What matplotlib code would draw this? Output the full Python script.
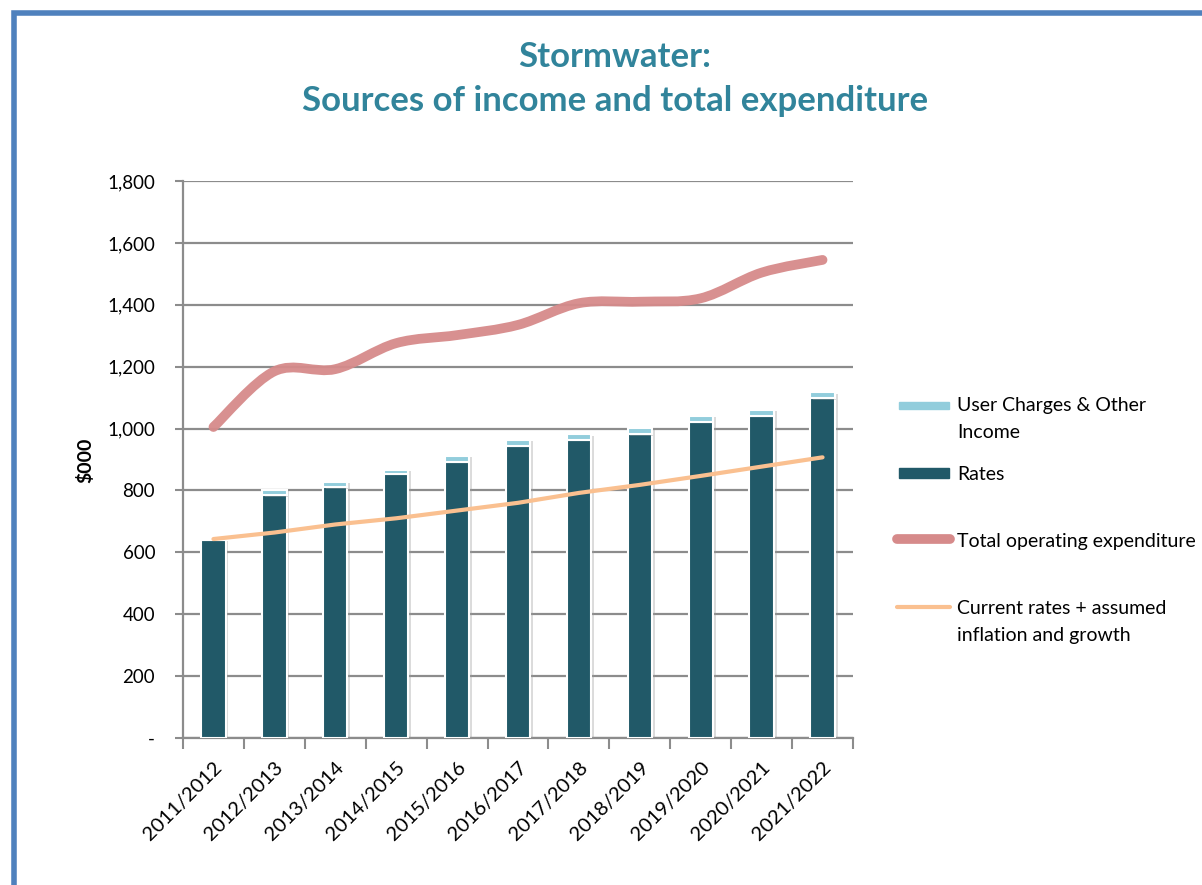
import numpy as np
import matplotlib.pyplot as plt
from matplotlib.path import Path
from matplotlib.patches import PathPatch, Rectangle
from matplotlib.lines import Line2D
import matplotlib.patheffects as pe

plt.rcParams['font.family'] = ['Lato', 'DejaVu Sans']

years = ['2011/2012', '2012/2013', '2013/2014', '2014/2015', '2015/2016', '2016/2017',
         '2017/2018', '2018/2019', '2019/2020', '2020/2021', '2021/2022']
rates = [640, 784, 810, 853, 893, 944, 963, 982, 1022, 1041, 1098]
user_charges = [0, 19, 18, 13, 18, 19, 19, 19, 19, 19, 19]
total_opex = [1005, 1185, 1192, 1276, 1302, 1335, 1405, 1410, 1421, 1504, 1545]
current_rates = [643, 664, 690, 710, 735, 760, 792, 818, 847, 877, 907]

c_rates = '#215968'
c_user = '#92CDDC'
c_opex = '#D68A8A'
c_curr = '#FAC090'
c_title = '#31849B'
c_grid = '#8C8C8C'


def smooth_path(xs, ys):
    # Bezier segments through every point (same smoothing as spreadsheet charts)
    pts = np.column_stack([xs, ys]).astype(float)
    verts = [pts[0]]
    codes = [Path.MOVETO]
    n = len(pts)
    for i in range(n - 1):
        p0 = pts[i - 1] if i > 0 else pts[i]
        p1, p2 = pts[i], pts[i + 1]
        p3 = pts[i + 2] if i + 2 < n else pts[i + 1]
        verts += [p1 + (p2 - p0) / 6, p2 - (p3 - p1) / 6, p2]
        codes += [Path.CURVE4] * 3
    return Path(verts, codes)


W, H = 1202, 885
fig = plt.figure(figsize=(W / 100, H / 100), dpi=100)
ax = fig.add_axes([183 / W, 1 - 738 / H, (853 - 183) / W, (738 - 181) / H])

x = np.arange(len(years))
shadow = [pe.SimplePatchShadow(offset=(2, -1), shadow_rgbFace='#999999', alpha=0.35), pe.Normal()]
b1 = ax.bar(x, rates, width=0.4, color=c_rates, edgecolor='white', linewidth=1.5, zorder=3)
b2 = ax.bar(x, user_charges, width=0.4, bottom=rates, color=c_user, edgecolor='white',
            linewidth=1.5, zorder=3)
for b in list(b1) + list(b2):
    b.set_path_effects(shadow)

ax.add_patch(PathPatch(smooth_path(x, total_opex), facecolor='none', edgecolor=c_opex,
                       lw=7, capstyle='round', joinstyle='round', alpha=0.95, zorder=4))
ax.plot(x, current_rates, color=c_curr, lw=3, solid_capstyle='round', zorder=5)

ax.set_xlim(-0.5, len(years) - 0.5)
ax.set_ylim(0, 1800)
ax.set_yticks(range(0, 1801, 200))
ax.set_yticklabels(['-'] + [f'{v:,}' for v in range(200, 1801, 200)], fontsize=13.5)
ax.yaxis.grid(True, color=c_grid, lw=1.6, zorder=0)
ax.set_axisbelow(True)
ax.tick_params(axis='y', length=6, width=1.5, color=c_grid, pad=14)

ax.set_xticks(x)
ax.set_xticklabels(years, rotation=45, ha='right', rotation_mode='anchor', fontsize=14.5)
ax.tick_params(axis='x', which='major', length=0, pad=15)
ax.set_xticks(np.arange(-0.5, len(years)), minor=True)
ax.tick_params(axis='x', which='minor', length=8, width=1.5, color=c_grid)

for s in ['top', 'right']:
    ax.spines[s].set_visible(False)
for s in ['left', 'bottom']:
    ax.spines[s].set_color(c_grid)
    ax.spines[s].set_linewidth(1.6)

fig.text(85 / W, 1 - 460 / H, '$000', rotation=90, fontsize=14, fontweight='bold',
         ha='center', va='center')

fig.text(615 / W, 1 - 57 / H, 'Stormwater:', fontsize=25, fontweight='bold',
         color=c_title, ha='center', va='center')
fig.text(615 / W, 1 - 101 / H, 'Sources of income and total expenditure', fontsize=25,
         fontweight='bold', color=c_title, ha='center', va='center')

# legend drawn in figure pixels
def fx(px):
    return px / W


def fy(py):
    return 1 - py / H


fig.add_artist(Rectangle((fx(899), fy(409)), (949 - 899) / W, 7 / H, color=c_user,
                         transform=fig.transFigure))
fig.add_artist(Rectangle((fx(899), fy(478)), (949 - 899) / W, 10 / H, color=c_rates,
                         transform=fig.transFigure))
fig.add_artist(Line2D([fx(897), fx(950)], [fy(539), fy(539)], color=c_opex, lw=7,
                      solid_capstyle='round', transform=fig.transFigure))
fig.add_artist(Line2D([fx(897), fx(950)], [fy(607), fy(607)], color=c_curr, lw=3,
                      solid_capstyle='round', transform=fig.transFigure))
leg_fs = 14
fig.text(fx(957), fy(406), 'User Charges & Other', fontsize=leg_fs, va='center')
fig.text(fx(957), fy(432), 'Income', fontsize=leg_fs, va='center')
fig.text(fx(957), fy(474), 'Rates', fontsize=leg_fs, va='center')
fig.text(fx(957), fy(541), 'Total operating expenditure', fontsize=leg_fs, va='center')
fig.text(fx(957), fy(609), 'Current rates + assumed', fontsize=leg_fs, va='center')
fig.text(fx(957), fy(635), 'inflation and growth', fontsize=leg_fs, va='center')

# outer frame
fig.add_artist(Rectangle((fx(13.5), fy(900)), (1300 - 13.5) / W, (900 - 12.5) / H,
                         fill=False, edgecolor='#4F81BD', lw=4, transform=fig.transFigure))

fig.savefig('out.png', dpi=100)
